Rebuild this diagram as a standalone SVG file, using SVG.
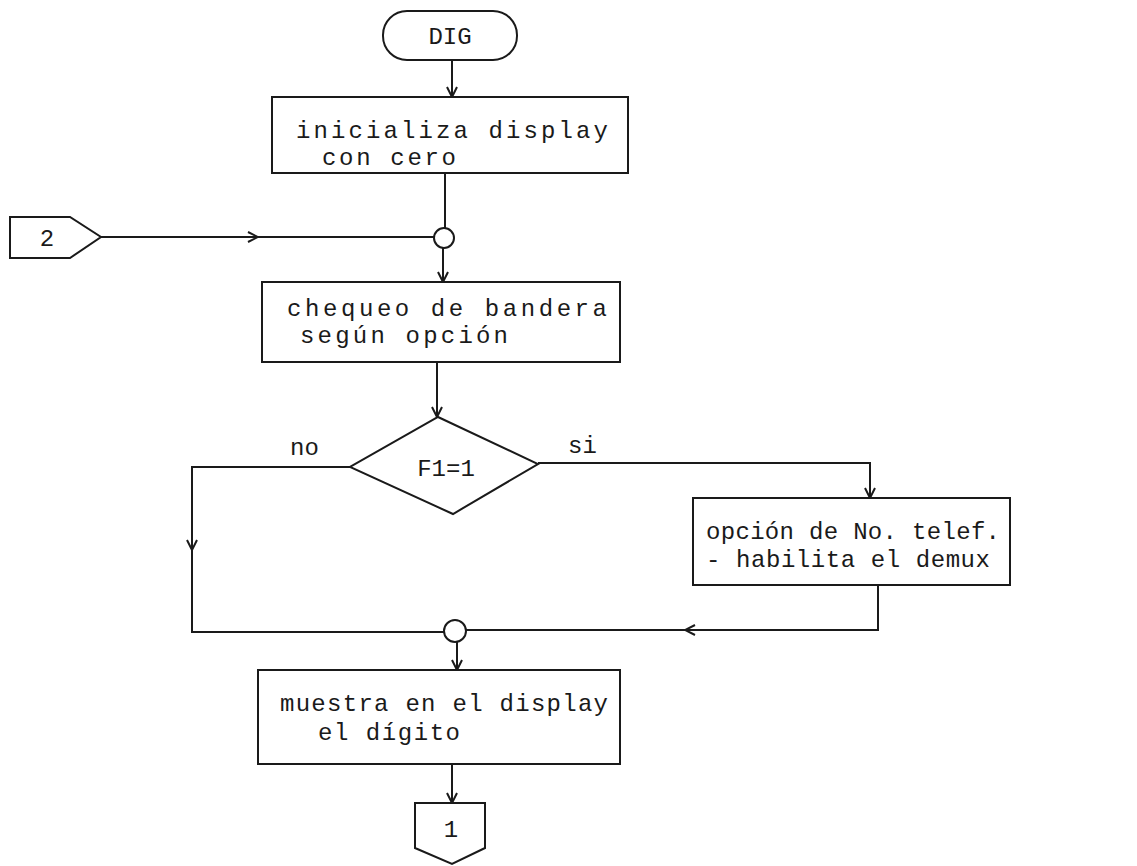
<svg xmlns="http://www.w3.org/2000/svg" width="1137" height="866" viewBox="0 0 1137 866">
<defs>
<style>
.s{fill:none;stroke:#1a1a1a;stroke-width:2}
.b{fill:#fff;stroke:#1a1a1a;stroke-width:2}
.t{font-family:"Liberation Mono","DejaVu Sans Mono",monospace;font-size:24px;fill:#1a1a1a}
.c{text-anchor:middle}
</style>
<marker id="a" viewBox="0 0 12 12" refX="11" refY="6" markerWidth="12" markerHeight="12" markerUnits="userSpaceOnUse" orient="auto">
<path d="M1,1 L11,6 L1,11" fill="none" stroke="#1a1a1a" stroke-width="2"/>
</marker>
</defs>
<rect width="1137" height="866" fill="#fff"/>
<g id="connectors">
<path class="s" d="M452,60 V97" marker-end="url(#a)"/>
<path class="s" d="M445,173 V228"/>
<path class="s" d="M101,237 H258" marker-end="url(#a)"/>
<path class="s" d="M258,237 H434"/>
<path class="s" d="M443,248 V282" marker-end="url(#a)"/>
<path class="s" d="M437,362 V417" marker-end="url(#a)"/>
<path class="s" d="M538,463 H870 V498" marker-end="url(#a)"/>
<path class="s" d="M350,467 H192 V550" marker-end="url(#a)"/>
<path class="s" d="M192,550 V632 H444"/>
<path class="s" d="M878,585 V630 H685" marker-end="url(#a)"/>
<path class="s" d="M685,630 H466"/>
<path class="s" d="M457,642 V670" marker-end="url(#a)"/>
<path class="s" d="M452,764 V803" marker-end="url(#a)"/>
</g>
<g id="start">
<rect class="b" x="383" y="11" width="134" height="49" rx="24" ry="24"/>
<text class="t c" x="450" y="44">DIG</text>
</g>
<g id="init">
<rect class="b" x="272" y="97" width="356" height="76"/>
<text class="t" x="296" y="138" textLength="312" lengthAdjust="spacing">inicializa display</text>
<text class="t" x="322" y="165" textLength="134" lengthAdjust="spacing">con cero</text>
</g>
<g id="conn2">
<path class="b" d="M10,217 H70 L101,237 L70,258 H10 Z"/>
<text class="t c" x="47" y="246">2</text>
</g>
<g id="merge1">
<circle class="b" cx="444" cy="238" r="10"/>
</g>
<g id="check">
<rect class="b" x="262" y="282" width="358" height="80"/>
<text class="t" x="287" y="316" textLength="320" lengthAdjust="spacing">chequeo de bandera</text>
<text class="t" x="300" y="343" textLength="208" lengthAdjust="spacing">según opción</text>
</g>
<g id="decision">
<path class="b" d="M438,417 L538,464 L453,514 L350,467 Z"/>
<text class="t c" x="446" y="476">F1=1</text>
<text class="t" x="290" y="455">no</text>
<text class="t" x="568" y="453">si</text>
</g>
<g id="option">
<rect class="b" x="693" y="498" width="317" height="87"/>
<text class="t" x="706" y="539" textLength="294" lengthAdjust="spacing">opción de No. telef.</text>
<text class="t" x="706" y="567" textLength="284" lengthAdjust="spacing">- habilita el demux</text>
</g>
<g id="merge2">
<circle class="b" cx="455" cy="631" r="11"/>
</g>
<g id="show">
<rect class="b" x="258" y="670" width="362" height="94"/>
<text class="t" x="280" y="711" textLength="328" lengthAdjust="spacing">muestra en el display</text>
<text class="t" x="318" y="740" textLength="142" lengthAdjust="spacing">el dígito</text>
</g>
<g id="conn1">
<path class="b" d="M415,803 H485 V848 L452,864 L415,848 Z"/>
<text class="t c" x="451" y="837">1</text>
</g>
</svg>
